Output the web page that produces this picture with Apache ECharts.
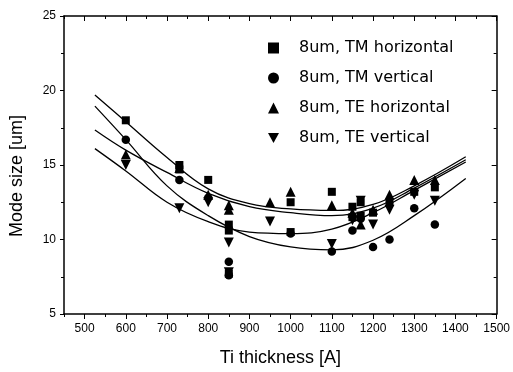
<!DOCTYPE html>
<html><head><meta charset="utf-8">
<script src="https://cdn.jsdelivr.net/npm/echarts@6/dist/echarts.min.js"></script>
<style>html,body{margin:0;padding:0;background:#fff}#c{width:513px;height:372px}</style>
</head><body><div id="c"></div>
<script>
// Scatter data [Ti thickness (A), mode size (um)]
const tmHorizontal = [[600,18.0],[730,15.0],[730,14.7],[800,14.0],[850,11.0],[850,10.6],[850,7.7],[1000,12.5],[1000,10.5],[1100,13.2],[1150,12.2],[1150,11.5],[1170,12.5],[1170,11.6],[1200,11.8],[1240,12.5],[1300,13.2],[1350,13.5]];
const tmVertical = [[600,16.7],[730,14.0],[800,12.8],[850,8.5],[850,7.6],[1000,10.4],[1100,9.2],[1150,10.6],[1170,11.4],[1200,9.5],[1240,10.0],[1300,12.1],[1350,11.0]];
const teHorizontal = [[600,15.7],[730,14.8],[800,13.0],[850,12.3],[850,12.0],[950,12.5],[1000,13.2],[1100,12.3],[1150,11.8],[1170,11.0],[1200,12.0],[1240,13.0],[1300,14.0],[1350,14.0]];
const teVertical = [[600,15.0],[730,12.1],[800,12.5],[850,9.8],[850,7.8],[950,11.2],[1100,9.7],[1150,11.3],[1170,12.6],[1200,11.0],[1240,12.0],[1300,13.0],[1350,12.6]];
// Fit curves
const fitX = [525,600,700,800,900,1000,1100,1200,1300,1425];
const fitTMh = [19.7,17.9,15.5,13.4,12.4,12.05,11.95,12.35,13.6,15.55];
const fitTMv = [18.95,16.7,13.6,11.6,10.2,9.5,9.3,9.95,11.6,14.1];
const fitTEh = [17.35,16.0,14.5,13.1,12.2,11.8,11.6,12.1,13.45,15.35];
const fitTEv = [16.1,14.6,12.5,11.2,10.5,10.4,10.7,11.8,13.3,15.2];
const names = ['8um, TM horizontal','8um, TM vertical','8um, TE horizontal','8um, TE vertical'];
const xLabels = [500,600,700,800,900,1000,1100,1200,1300,1400,1500];
const yRange = {min:5, max:25, interval:5};
const xRange = {min:450, max:1500, interval:50};

const downTri = 'path://M0,0 L10,0 L5,9 Z';
const chart = echarts.init(document.getElementById('c'));
const F = 'Liberation Sans, Arial, sans-serif';
function fit(ys){ return fitX.map((x,i)=>[x,ys[i]]); }
function lineS(ys){ return {type:'line', data:fit(ys), smooth:0.4, showSymbol:false, silent:true,
  lineStyle:{color:'#000', width:1.3}, z:2}; }
function scat(name, d, sym, size){ return {type:'scatter', name, data:d, symbol:sym, symbolSize:size,
  itemStyle:{color:'#000', opacity:1}, z:3}; }
const black = {color:'#000'};
function xAx(pos, major, showLine, inside){
  const a = {type:'value', position:pos, min:xRange.min, max:xRange.max, interval:xRange.interval,
    splitLine:{show:false},
    axisLine:{show:showLine, lineStyle:{color:'#000', width:1.5}},
    axisLabel:{show:false}};
  if (major) a.axisTick = {inside, length:5, customValues:xLabels, lineStyle:black};
  else a.axisTick = {inside, length:3, lineStyle:black};
  return a;
}
const bottom = xAx('bottom', true, true, false);
bottom.name = 'Ti thickness [A]';
bottom.nameLocation = 'middle';
bottom.nameGap = 35;
bottom.nameTextStyle = {fontFamily:F, fontSize:18, color:'#000'};
bottom.axisLabel = {show:true, customValues:xLabels, formatter:v=>String(v), fontFamily:F, fontSize:12, color:'#000', margin:9};
chart.setOption({
  animation:false,
  grid:{left:63, right:14, top:16, bottom:55},
  legend:{orient:'vertical', left:263, top:35, itemGap:14, itemWidth:11, itemHeight:11,
    itemStyle:{opacity:1},
    textStyle:{fontFamily:'DejaVu Sans, sans-serif', fontSize:16, color:'#000', padding:[0,0,0,15]},
    data:[{name:names[0], icon:'rect'},{name:names[1], icon:'circle'},{name:names[2], icon:'triangle'},{name:names[3], icon:downTri}]},
  xAxis:[ bottom, xAx('bottom', false, false, false), xAx('top', true, true, true), xAx('top', false, false, true) ],
  yAxis:[
    {type:'value', min:yRange.min, max:yRange.max, interval:yRange.interval, name:'Mode size [um]',
      nameLocation:'middle', nameGap:38, nameTextStyle:{fontFamily:F, fontSize:18, color:'#000', padding:[0,22,0,0]},
      splitLine:{show:false}, axisLine:{lineStyle:{color:'#000', width:1.5}},
      axisTick:{inside:false, length:4, lineStyle:black},
      minorTick:{show:true, splitNumber:2, length:3, lineStyle:black},
      axisLabel:{fontFamily:F, fontSize:12, color:'#000', margin:8}},
    {type:'value', position:'right', min:yRange.min, max:yRange.max, interval:yRange.interval,
      splitLine:{show:false}, axisLine:{lineStyle:{color:'#000', width:1.5}},
      axisTick:{inside:true, length:5, lineStyle:black},
      minorTick:{show:true, splitNumber:2, length:3, lineStyle:black},
      axisLabel:{show:false}}
  ],
  series:[
    lineS(fitTMh), lineS(fitTMv), lineS(fitTEh), lineS(fitTEv),
    scat(names[0], tmHorizontal, 'rect', 8),
    scat(names[1], tmVertical, 'circle', 8.5),
    scat(names[2], teHorizontal, 'triangle', 10),
    scat(names[3], teVertical, downTri, 10)
  ]
});
</script></body></html>
